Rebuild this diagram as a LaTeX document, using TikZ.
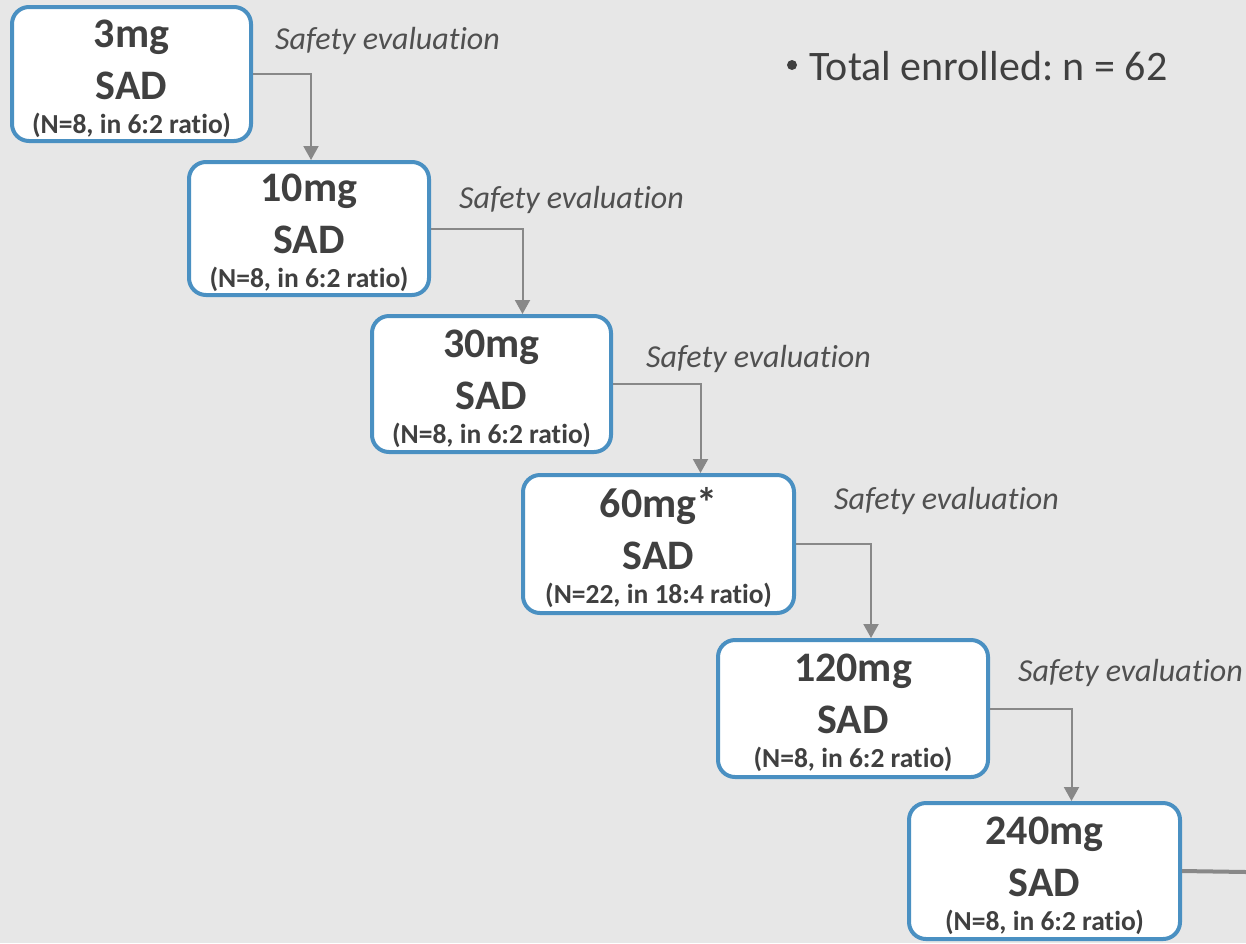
\documentclass[tikz,border=0pt]{standalone}
\usepackage{fontspec}
\setmainfont{Carlito}[Ligatures={NoCommon,NoContextual}]
\usetikzlibrary{arrows.meta,calc}
\definecolor{bg}{RGB}{231,231,231}
\definecolor{boxblue}{RGB}{74,144,194}
\definecolor{txt}{RGB}{64,64,64}
\definecolor{lbl}{RGB}{80,80,80}
\definecolor{conn}{RGB}{136,136,136}
\frenchspacing
\tikzset{
  dosebox/.style={draw=boxblue, line width=4pt, fill=white, rounded corners=17pt,
    inner sep=0pt, outer sep=0pt},
  dosetxt/.style={anchor=base, text=txt, font=\fontsize{42}{42}\selectfont\bfseries, inner sep=0pt},
  ntxt/.style={anchor=base, text=txt, font=\fontsize{27.5}{27.5}\selectfont\bfseries, inner sep=0pt},
  evaltxt/.style={anchor=base west, text=lbl, font=\fontsize{32}{32}\selectfont\itshape, inner sep=0pt},
  connector/.style={draw=conn, line width=2pt, -{Triangle[width=15pt,length=14pt]}},
}
\newcommand{\dose}[7]{% name, cx, cy, w, h, dose, N text
  \node[dosebox, minimum width=#4pt, minimum height=#5pt] (#1) at (#2,#3) {};
  \node[dosetxt] (#1d) at ($(#1.center)+(0,-27)$) {#6};
  \node[dosetxt] (#1s) at ($(#1.center)+(0,25)$) {SAD};
  \node[ntxt] (#1n) at ($(#1.center)+(0,59)$) {#7};
}
\begin{document}
\begin{tikzpicture}[x=1pt,y=-1pt]
\fill[bg] (0,0) rectangle (1246,943);
\useasboundingbox (0,0) rectangle (1246,943);

\dose{b1}{131.5}{74}{239}{134}{3mg}{(N=8, in 6:2 ratio)}
\dose{b2}{309}{228.5}{240}{133}{10mg}{(N=8, in 6:2 ratio)}
\dose{b3}{491.5}{384}{239}{136}{30mg}{(N=8, in 6:2 ratio)}
\dose{b4}{658.5}{544}{271}{138}{60mg*}{(N=22, in 18:4 ratio)}
\dose{b5}{853}{708.5}{270}{137}{120mg}{(N=8, in 6:2 ratio)}
\dose{b6}{1044.5}{871}{271}{136}{240mg}{(N=8, in 6:2 ratio)}

\draw[connector] ([xshift=2pt]b1.east) -| ([xshift=2pt,yshift=2pt]b2.north);
\draw[connector] ([xshift=2pt]b2.east) -| ([xshift=31pt,yshift=2pt]b3.north);
\draw[connector] ([xshift=2pt]b3.east) -| ([xshift=42pt,yshift=2pt]b4.north);
\draw[connector] ([xshift=2pt]b4.east) -| ([xshift=18pt,yshift=2pt]b5.north);
\draw[connector] ([xshift=2pt]b5.east) -| ([xshift=27pt,yshift=2pt]b6.north);

\coordinate (out) at (1246,872);
\draw[draw=conn, line width=4pt] ([xshift=2pt]b6.east) -- (out);

\node[evaltxt] (e1) at (275,49) {Safety evaluation};
\node[evaltxt] (e2) at (459,208) {Safety evaluation};
\node[evaltxt] (e3) at (646,367) {Safety evaluation};
\node[evaltxt] (e4) at (834,509) {Safety evaluation};
\node[evaltxt] (e5) at (1018,681) {Safety evaluation};

\fill[txt] (792,65) circle (5pt);
\node[anchor=base west, text=txt, font=\fontsize{42}{42}\selectfont, inner sep=0pt] (total) at (809,80) {Total enrolled: n = 62};
\end{tikzpicture}
\end{document}
